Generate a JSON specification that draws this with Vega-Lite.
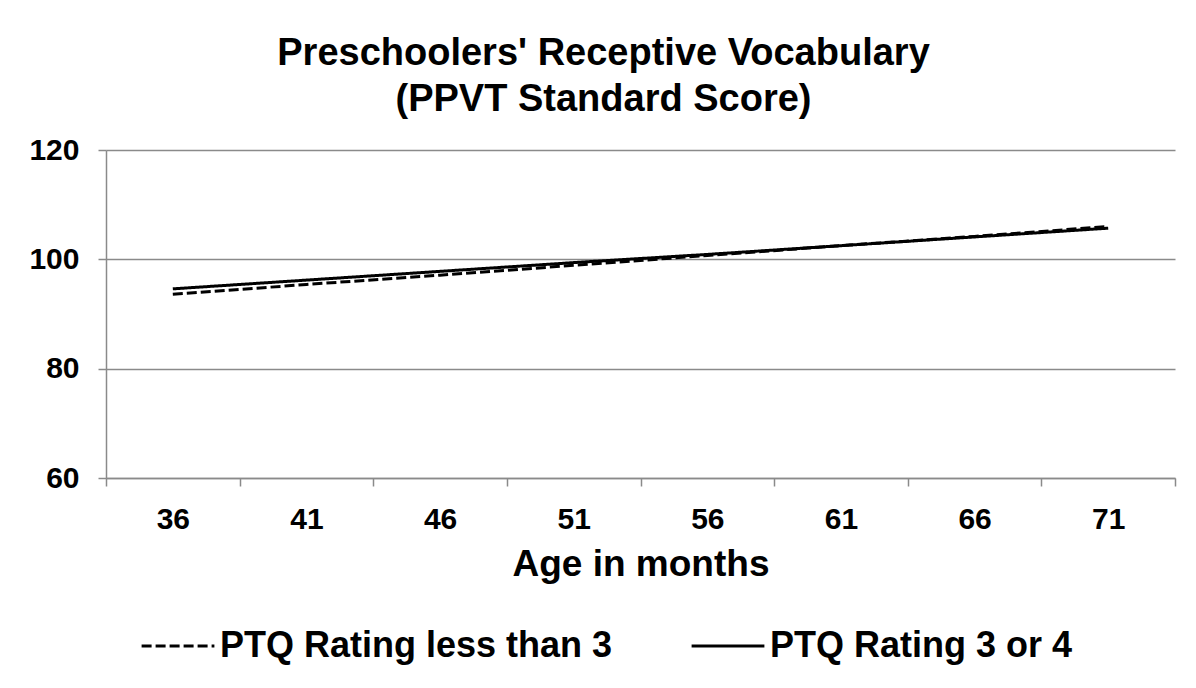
{
  "$schema": "https://vega.github.io/schema/vega-lite/v6.json",
  "width": 1069,
  "height": 328,
  "autosize": {"type": "none"},
  "padding": {"left": 106, "top": 150, "right": 21, "bottom": 210},
  "background": "white",
  "config": {"view": {"stroke": null}},
  "title": {
    "text": ["Preschoolers' Receptive Vocabulary", "(PPVT Standard Score)"],
    "font": "Liberation Sans",
    "fontSize": 38,
    "fontWeight": "bold",
    "color": "black",
    "anchor": "middle",
    "dx": -37,
    "lineHeight": 46,
    "offset": 16
  },
  "data": {
    "values": [
      {"series": "PTQ Rating less than 3", "age": "36", "score": 93.6},
      {"series": "PTQ Rating less than 3", "age": "41", "score": 95.4},
      {"series": "PTQ Rating less than 3", "age": "46", "score": 97.1},
      {"series": "PTQ Rating less than 3", "age": "51", "score": 98.9},
      {"series": "PTQ Rating less than 3", "age": "56", "score": 100.7},
      {"series": "PTQ Rating less than 3", "age": "61", "score": 102.5},
      {"series": "PTQ Rating less than 3", "age": "66", "score": 104.2},
      {"series": "PTQ Rating less than 3", "age": "71", "score": 106.0},
      {"series": "PTQ Rating 3 or 4", "age": "36", "score": 94.6},
      {"series": "PTQ Rating 3 or 4", "age": "41", "score": 96.2},
      {"series": "PTQ Rating 3 or 4", "age": "46", "score": 97.8},
      {"series": "PTQ Rating 3 or 4", "age": "51", "score": 99.4},
      {"series": "PTQ Rating 3 or 4", "age": "56", "score": 100.9},
      {"series": "PTQ Rating 3 or 4", "age": "61", "score": 102.5},
      {"series": "PTQ Rating 3 or 4", "age": "66", "score": 104.1},
      {"series": "PTQ Rating 3 or 4", "age": "71", "score": 105.7}
    ]
  },
  "mark": {"type": "line", "color": "black", "strokeWidth": 3},
  "encoding": {
    "x": {
      "field": "age",
      "type": "ordinal",
      "sort": null,
      "bandPosition": 0.5,
      "scale": {"type": "band", "paddingInner": 0, "paddingOuter": 0},
      "axis": {
        "title": "Age in months",
        "titleFont": "Liberation Sans",
        "titleFontSize": 37,
        "titleFontWeight": "bold",
        "titleColor": "black",
        "titlePadding": 12,
        "labelFont": "Liberation Sans",
        "labelFontSize": 30,
        "labelFontWeight": "bold",
        "labelColor": "black",
        "labelAngle": 0,
        "labelPadding": 18,
        "tickBand": "extent",
        "tickSize": 8,
        "tickColor": "#8a8a8a",
        "tickWidth": 1.5,
        "domainColor": "#8a8a8a",
        "domainWidth": 1.5,
        "grid": false
      }
    },
    "y": {
      "field": "score",
      "type": "quantitative",
      "scale": {"domain": [60, 120], "nice": false, "zero": false},
      "axis": {
        "title": null,
        "values": [60, 80, 100, 120],
        "labelFont": "Liberation Sans",
        "labelFontSize": 30,
        "labelFontWeight": "bold",
        "labelColor": "black",
        "labelPadding": 19,
        "tickSize": 8,
        "tickColor": "#8a8a8a",
        "tickWidth": 1.5,
        "domainColor": "#8a8a8a",
        "domainWidth": 1.5,
        "grid": true,
        "gridColor": "#8a8a8a",
        "gridWidth": 1.5
      }
    },
    "strokeDash": {
      "field": "series",
      "type": "nominal",
      "scale": {
        "domain": ["PTQ Rating less than 3", "PTQ Rating 3 or 4"],
        "range": [[10, 4], [1, 0]]
      },
      "legend": {
        "title": null,
        "orient": "none",
        "legendX": 34,
        "legendY": 458,
        "direction": "horizontal",
        "symbolType": "stroke",
        "symbolSize": 5300,
        "symbolStrokeWidth": 3,
        "symbolStrokeColor": "black",
        "labelFont": "Liberation Sans",
        "labelFontSize": 36,
        "labelFontWeight": "bold",
        "labelColor": "black",
        "labelOffset": 4,
        "labelLimit": 600,
        "columnPadding": 72
      }
    }
  }
}
